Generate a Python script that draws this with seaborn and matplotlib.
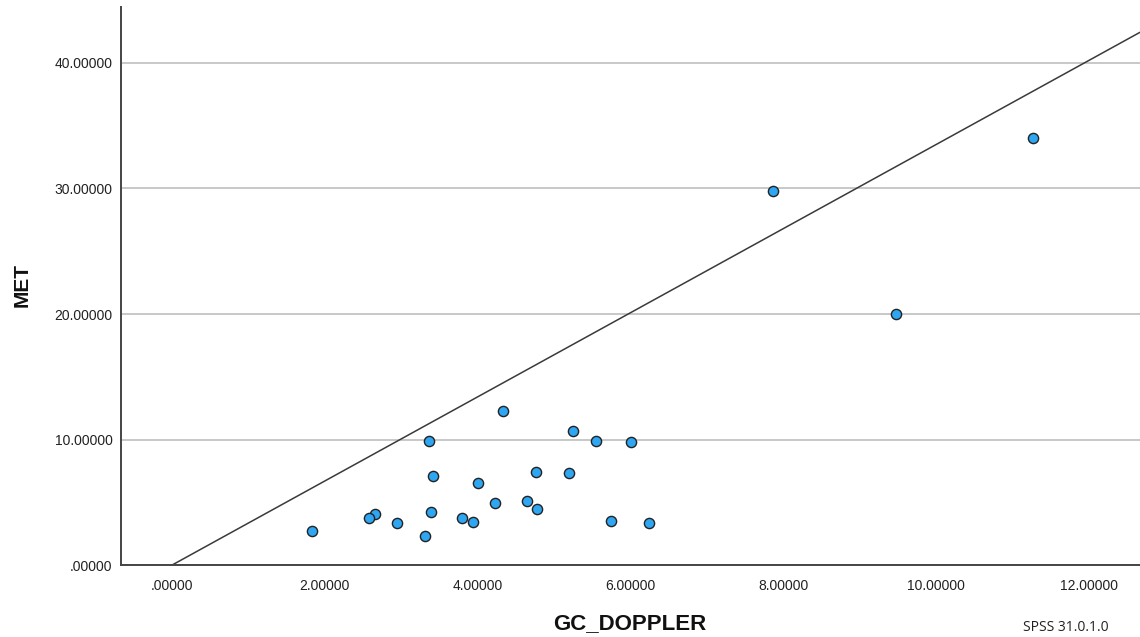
import numpy as np
import pandas as pd
import matplotlib
matplotlib.use('Agg')
import matplotlib.pyplot as plt
import seaborn as sns
from matplotlib.ticker import FuncFormatter

# values
gc_doppler = [4.33, 5.25, 3.36, 5.55, 6.01, 3.41, 4.76, 5.20, 4.00, 4.22,
              4.65, 4.78, 3.39, 2.65, 2.58, 2.94, 3.80, 3.94, 5.75, 6.24,
              1.83, 3.31, 7.87, 11.27, 9.48]
met = [12.27, 10.70, 9.90, 9.90, 9.78, 7.09, 7.39, 7.31, 6.56, 4.92,
       5.10, 4.46, 4.20, 4.06, 3.77, 3.37, 3.77, 3.40, 3.53, 3.32,
       2.73, 2.33, 29.8, 34.0, 20.02]
line_slope = 3.35
y_ticks = [0, 10, 20, 30, 40]
x_ticks = [0, 2, 4, 6, 8, 10, 12]

df = pd.DataFrame({'GC_DOPPLER': gc_doppler, 'MET': met})

sns.set_style('white')
plt.rcParams['font.family'] = ['Liberation Sans', 'DejaVu Sans']

fig = plt.figure(figsize=(11.4, 6.37), dpi=100)
ax = fig.add_axes([0.1061, 0.113, 0.8939, 0.876])

ax.set_xlim(-0.67, 12.67)
ax.set_ylim(0, 44.46)

# reference line through the origin
xs = np.array(ax.get_xlim())
ax.plot(xs, line_slope * xs, color='#3a3a3a', linewidth=1.1, zorder=2)

sns.scatterplot(data=df, x='GC_DOPPLER', y='MET', ax=ax, s=54,
                color='#2ea6f2', edgecolor='#222222', linewidth=1.0, zorder=3)

ax.set_yticks(y_ticks)
ax.set_xticks(x_ticks)
ax.yaxis.grid(True, color='#b9b9b9', linewidth=1.1)
ax.set_axisbelow(True)


def fmt(v, pos):
    s = f'{v:.5f}'
    return s[1:] if s.startswith('0') else s


ax.xaxis.set_major_formatter(FuncFormatter(fmt))
ax.yaxis.set_major_formatter(FuncFormatter(fmt))
ax.tick_params(axis='both', length=0, labelsize=10, labelcolor='#222222')
ax.tick_params(axis='x', pad=10)
ax.tick_params(axis='y', pad=6)

for side in ['top', 'right']:
    ax.spines[side].set_visible(False)
for side in ['left', 'bottom']:
    ax.spines[side].set_color('#444444')
    ax.spines[side].set_linewidth(1.4)

ax.set_xlabel('')
ax.set_ylabel('')
fig.text(630 / 1140, 1 - 624 / 637, 'GC_DOPPLER', fontsize=16, fontweight='bold',
         ha='center', va='center', color='#111111')
fig.text(22 / 1140, 1 - 285 / 637, 'MET', fontsize=15, fontweight='bold',
         rotation=90, ha='center', va='center', color='#111111')
fig.text(1023 / 1140, 1 - 635 / 637, 'SPSS 31.0.1.0', fontsize=10,
         ha='left', va='bottom', color='#222222', family=['Open Sans', 'DejaVu Sans'])

fig.savefig('out.png', dpi=100)
